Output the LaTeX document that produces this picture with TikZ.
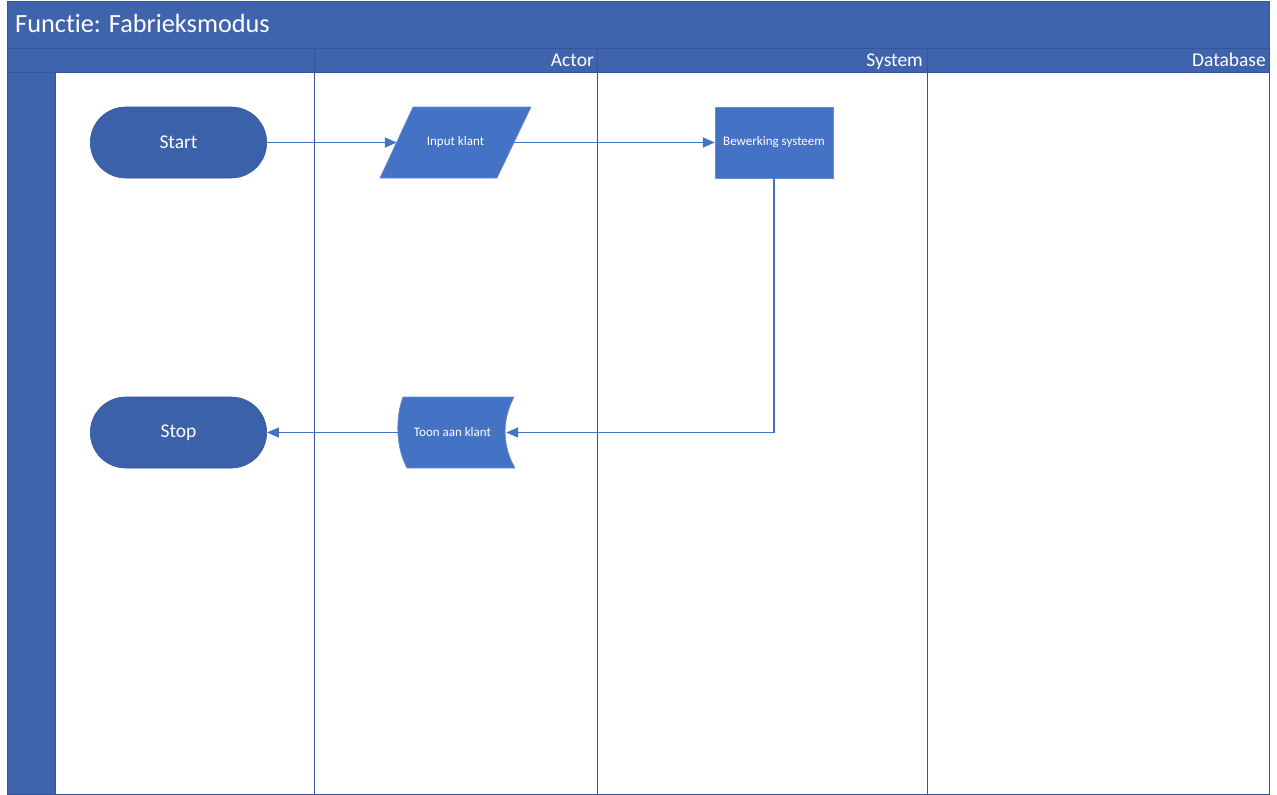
\documentclass[tikz,border=0pt]{standalone}
\usepackage{fontspec}
\setmainfont{Carlito}[Ligatures=NoCommon]
\usetikzlibrary{shapes.misc,arrows.meta}
\definecolor{lanefill}{HTML}{3F63AD}
\definecolor{laneline}{HTML}{35569A}
\definecolor{termfill}{HTML}{3C61AB}
\definecolor{shapefill}{HTML}{4472C4}
\definecolor{shapeline}{HTML}{6A8CCD}
\tikzset{
  lanebar/.style={fill=lanefill,draw=laneline,line width=0.8pt},
  divider/.style={draw=laneline,line width=0.9pt},
  lanehead/.style={text=white,font=\fontsize{19.5}{21}\selectfont,anchor=base east,inner sep=0pt},
  terminal/.style={rounded rectangle,fill=termfill,draw=laneline,line width=0.6pt,
    minimum width=183pt,minimum height=71pt,text=white,font=\fontsize{19.5}{21}\selectfont},
  boxtext/.style={rectangle,minimum height=71pt,inner sep=0pt,
    text=white,font=\fontsize{13}{15}\selectfont},
  shapebody/.style={fill=shapefill,draw=shapeline,line width=0.6pt},
  flow/.style={draw=shapefill,line width=1.4pt,-{Triangle[length=12pt,width=10pt]}}
}
\begin{document}
\begin{tikzpicture}[x=1pt,y=-1pt]
\useasboundingbox (0,0) rectangle (1277,795);
% lanes
\fill[white] (7,1) rectangle (1269,794);
\path[lanebar] (7,1) rectangle (1269,48);
\path[lanebar] (7,48) rectangle (1269,72);
\path[lanebar] (7,72) rectangle (55,794);
\draw[divider] (7,1) rectangle (1269,794);
\draw[divider] (314,48) -- (314,794);
\draw[divider] (597,48) -- (597,794);
\draw[divider] (927,48) -- (927,794);
\node[text=white,font=\fontsize{26.3}{28}\selectfont,anchor=base west,inner sep=0pt] (title) at (15,32) {Functie: Fabrieksmodus};
\node[lanehead] (hactor) at (594,66) {Actor};
\node[lanehead] (hsystem) at (923,66) {System};
\node[lanehead] (hdb) at (1266,66) {Database};
% terminals
\node[terminal] (start) at (178.5,142.5) {Start};
\node[terminal] (stop) at (178.5,432.5) {Stop};
% data input (parallelogram)
\path[shapebody] (380,178) -- (413,107) -- (531,107) -- (497,178) -- cycle;
\node[boxtext,minimum width=117pt] (input) at (455.5,142.5) {Input klant};
% process
\path[shapebody] (715,107) rectangle (833,178);
\node[boxtext,minimum width=118pt] (bew) at (774,142.5) {Bewerking systeem};
% display
\path[shapebody] (403,397) -- (514,397)
  .. controls (502,420) and (502,445) .. (515,468) -- (407,468)
  .. controls (396,448) and (395,418) .. (403,397) -- cycle;
\node[boxtext,minimum width=107pt] (toon) at (452.5,432.5) {Toon aan klant};
% connectors
\draw[flow] (start.east) -- (input.west);
\draw[flow] (input.east) -- (bew.west);
\draw[flow] (bew.south) |- (toon.east);
\draw[flow] (toon.west) -- (stop.east);
\end{tikzpicture}
\end{document}
